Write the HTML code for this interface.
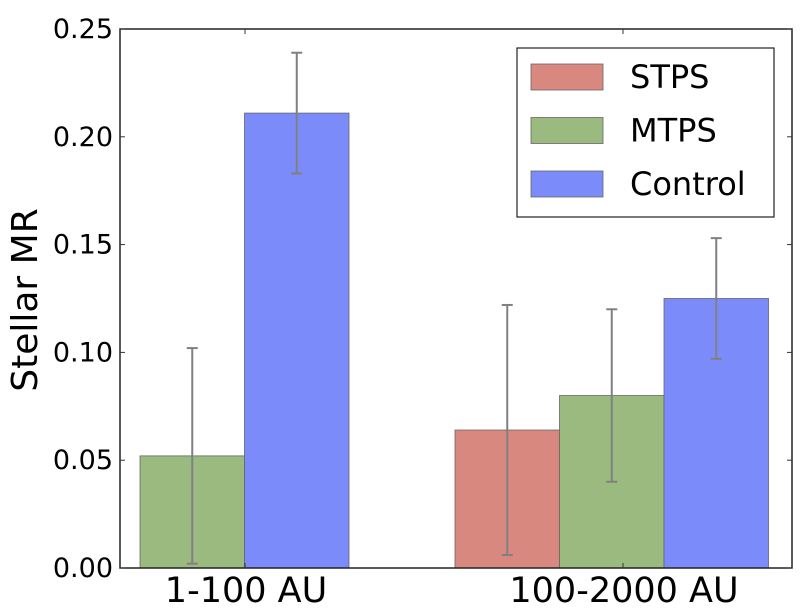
<!DOCTYPE html>
<html><head><meta charset="utf-8"><style>
html,body{margin:0;padding:0;background:#fff;}
svg{display:block;font-family:"DejaVu Sans","Liberation Sans",sans-serif;}
</style></head><body>
<svg id="chart" width="810" height="612"></svg>
<script>
const categories = ["1-100 AU", "100-2000 AU"];
const seriesNames = ["STPS", "MTPS", "Control"];
const stpsValues = [0, 0.064];
const mtpsValues = [0.052, 0.080];
const controlValues = [0.211, 0.125];
const stpsErr = [null, 0.058];
const mtpsErr = [0.050, 0.040];
const controlErr = [0.028, 0.028];
const yTicks = [0, 0.05, 0.10, 0.15, 0.20, 0.25];
const yTickLabels = ["0.00","0.05","0.10","0.15","0.20","0.25"];
const colors = ["#d98880","#9aba80","#7b8cfa"];

const NS="http://www.w3.org/2000/svg";
const svg=document.getElementById('chart');
const L=120,R=792,T=29,B=568;
const y=v=>B-(v/0.25)*(B-T);
const barW=104.5;
const groupStart=i=>35.5+i*419.5;
const tickX=i=>245+i*378;
function mk(tag,attrs,parent){const e=document.createElementNS(NS,tag);for(const k in attrs)e.setAttribute(k,attrs[k]);(parent||svg).appendChild(e);return e;}

const values=[stpsValues,mtpsValues,controlValues];
const errs=[stpsErr,mtpsErr,controlErr];
for(let s=0;s<3;s++){
  for(let i=0;i<categories.length;i++){
    const v=values[s][i];
    if(!v) continue;
    const x0=groupStart(i)+s*barW;
    const r=mk('rect',{x:x0,y:y(v),width:barW,height:B-y(v),fill:colors[s],stroke:"#666","stroke-width":0.8});
    
    
  }
}
for(let s=0;s<3;s++){
  for(let i=0;i<categories.length;i++){
    const v=values[s][i], e=errs[s][i];
    if(!v||e==null) continue;
    const cx=groupStart(i)+s*barW+barW/2;
    const g=mk('g',{stroke:"#808080","stroke-width":2});
    
    
    mk('line',{x1:cx,x2:cx,y1:y(v+e),y2:y(v-e)},g);
    mk('line',{x1:cx-5.5,x2:cx+5.5,y1:y(v+e),y2:y(v+e)},g);
    mk('line',{x1:cx-5.5,x2:cx+5.5,y1:y(v-e),y2:y(v-e)},g);
  }
}
const frame=mk('rect',{x:L,y:T,width:R-L,height:B-T,fill:"none",stroke:"#222","stroke-width":1.5});


yTicks.forEach((t,k)=>{
  mk('line',{x1:L,x2:L+5,y1:y(t),y2:y(t),stroke:"#333","stroke-width":1});
  mk('line',{x1:R,x2:R-5,y1:y(t),y2:y(t),stroke:"#333","stroke-width":1});
  const tx=mk('text',{x:L-7,y:y(t)+9,"text-anchor":"end","font-size":27});
  tx.textContent=yTickLabels[k];
  
  
});
categories.forEach((c,i)=>{
  mk('line',{x1:tickX(i),x2:tickX(i),y1:B,y2:B-5,stroke:"#333","stroke-width":1});
  mk('line',{x1:tickX(i),x2:tickX(i),y1:T,y2:T+5,stroke:"#333","stroke-width":1});
  const tx=mk('text',{x:tickX(i)+1,y:602,"text-anchor":"middle","font-size":35});
  tx.textContent=c;
  
  
});
const yl=mk('text',{x:0,y:0,transform:"translate(37,300) rotate(-90)","text-anchor":"middle","font-size":36});
yl.textContent="Stellar MR";



const lg=mk('g',{});


mk('rect',{x:517,y:48,width:257,height:169,fill:"#fff",stroke:"#222","stroke-width":1.2},lg);
seriesNames.forEach((n,s)=>{
  const yy=64+s*53.5;
  const p=mk('rect',{x:531,y:yy,width:72,height:26,fill:colors[s],stroke:"#666","stroke-width":0.8},lg);
  
  
  const t=mk('text',{x:630,y:yy+24,"font-size":32},lg);
  t.textContent=n;
  
  
});
</script>
</body></html>
